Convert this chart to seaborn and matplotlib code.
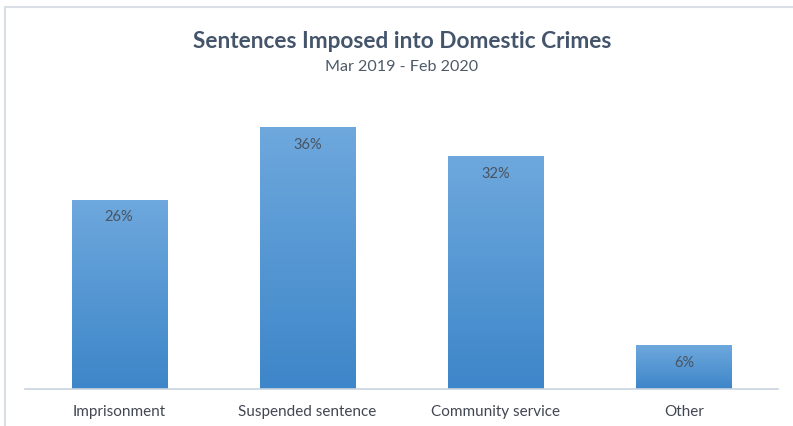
import numpy as np
import pandas as pd
import matplotlib
matplotlib.use("Agg")
import matplotlib.pyplot as plt
from matplotlib.lines import Line2D
from matplotlib.colors import LinearSegmentedColormap
import seaborn as sns

# Sentence shares (%)
categories = ["Imprisonment", "Suspended sentence", "Community service", "Other"]
shares = [26, 36, 32, 6]
value_labels = ["26%", "36%", "32%", "6%"]

title = "Sentences Imposed into Domestic Crimes"
subtitle = "Mar 2019 - Feb 2020"

sns.set_theme(style="white")
plt.rcParams["font.family"] = ["Lato", "DejaVu Sans"]

W, H = 793, 427
fig = plt.figure(figsize=(W / 100, H / 100), dpi=100)
fig.patch.set_facecolor("white")

# plot area in pixel terms
left_px, right_px, base_px, top_px = 25, 778, 390, 80
ax = fig.add_axes([left_px / W, 1 - base_px / H,
                   (right_px - left_px) / W, (base_px - top_px) / H])

df = pd.DataFrame({"category": categories, "share": shares})
sns.barplot(data=df, x="category", y="share", ax=ax, color="#5B9BD5",
            width=0.505, saturation=1, edgecolor="none")

ymax = (base_px - top_px) / 7.28

# vertical gradient fill for each bar
grad = LinearSegmentedColormap.from_list("bar", ["#3D86C9", "#6EA8DD"])
gradient = np.linspace(0, 1, 256).reshape(-1, 1)
for patch in ax.patches:
    x0, y0 = patch.get_x(), patch.get_y()
    w, h = patch.get_width(), patch.get_height()
    im = ax.imshow(gradient, cmap=grad, origin="lower", aspect="auto",
                   extent=[x0, x0 + w, y0, y0 + h], zorder=patch.get_zorder())
    im.set_clip_path(patch)
    patch.set_facecolor("none")

ax.set_xlim(-0.5, len(categories) - 0.5)
ax.set_ylim(0, ymax)

# value labels inside bar tops
for patch, lab in zip(ax.patches, value_labels):
    cx = patch.get_x() + patch.get_width() / 2
    ax.annotate(lab, (cx, patch.get_height()), xytext=(0, -12),
                textcoords="offset points", ha="center", va="center",
                fontsize=10.5, color="#4A5360", zorder=5)

for s in ["top", "right", "left"]:
    ax.spines[s].set_visible(False)
ax.spines["bottom"].set_color("#C9D3DE")
ax.spines["bottom"].set_linewidth(1.2)
ax.set_yticks([])
ax.set_xlabel("")
ax.set_ylabel("")
ax.tick_params(axis="x", length=0, pad=11, labelsize=11, labelcolor="#404652")

fig.text(402 / W, 1 - 41 / H, title, ha="center", va="center",
         fontsize=16.3, fontweight="bold", color="#44546A")
fig.text(402 / W, 1 - 67 / H, subtitle, ha="center", va="center",
         fontsize=11.6, color="#4F5A68")

# chart frame edges
fig.add_artist(Line2D([4.5 / W, 1], [1 - 7.5 / H, 1 - 7.5 / H],
                      transform=fig.transFigure, color="#D9DFE6", lw=1.5))
fig.add_artist(Line2D([4.5 / W, 4.5 / W], [0, 1 - 7.5 / H],
                      transform=fig.transFigure, color="#D9DFE6", lw=1.5))

fig.savefig("out.png", dpi=100, facecolor="white")
